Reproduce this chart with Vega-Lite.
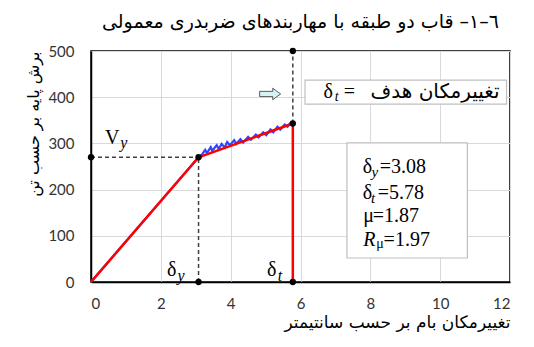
{
  "$schema": "https://vega.github.io/schema/vega-lite/v6.json",
  "width": 419,
  "height": 231,
  "autosize": "none",
  "padding": {"left": 91, "top": 51, "right": 24, "bottom": 65},
  "title": {
    "text": "٦–١– قاب دو طبقه با مهاربندهای ضربدری معمولی",
    "font": "DejaVu Sans",
    "fontSize": 19,
    "fontWeight": "normal",
    "color": "#000000",
    "anchor": "middle",
    "frame": "group",
    "offset": 12
  },
  "config": {
    "view": {"stroke": "#000000", "strokeWidth": 1.5},
    "axis": {
      "gridColor": "#d9d9d9",
      "gridWidth": 1,
      "ticks": false,
      "domainColor": "#000000",
      "domainWidth": 1.5,
      "labelFont": "Lato",
      "labelFontSize": 15,
      "labelColor": "#333333",
      "titleFont": "DejaVu Sans",
      "titleFontSize": 17,
      "titleFontWeight": "normal",
      "titleColor": "#000000"
    }
  },
  "datasets": {
    "boxes": [
      {"x": 6.13, "x2": 11.9, "y": 437, "y2": 385},
      {"x": 7.33, "x2": 10.78, "y": 301, "y2": 52}
    ],
    "pushover": [
      {"x": 0, "y": 0},
      {"x": 3.08, "y": 270},
      {"x": 3.18, "y": 276},
      {"x": 3.27, "y": 286},
      {"x": 3.32, "y": 279},
      {"x": 3.43, "y": 292},
      {"x": 3.47, "y": 284},
      {"x": 3.6, "y": 296},
      {"x": 3.66, "y": 288},
      {"x": 3.74, "y": 299},
      {"x": 3.83, "y": 291},
      {"x": 3.9, "y": 303},
      {"x": 3.98, "y": 296},
      {"x": 4.1, "y": 307},
      {"x": 4.16, "y": 299},
      {"x": 4.28, "y": 309},
      {"x": 4.36, "y": 302},
      {"x": 4.5, "y": 314},
      {"x": 4.58, "y": 308},
      {"x": 4.72, "y": 319},
      {"x": 4.8, "y": 313},
      {"x": 4.93, "y": 324},
      {"x": 5.02, "y": 318},
      {"x": 5.14, "y": 330},
      {"x": 5.22, "y": 324},
      {"x": 5.34, "y": 336},
      {"x": 5.42, "y": 330},
      {"x": 5.55, "y": 341},
      {"x": 5.63, "y": 336},
      {"x": 5.72, "y": 345},
      {"x": 5.78, "y": 343}
    ],
    "bilinear": [
      {"x": 0, "y": 0},
      {"x": 3.08, "y": 270},
      {"x": 5.78, "y": 343}
    ],
    "dashed": [
      {"x": 0, "x2": 3.08, "y": 270, "y2": 270},
      {"x": 3.08, "x2": 3.08, "y": 0, "y2": 270},
      {"x": 5.78, "x2": 5.78, "y": 343, "y2": 500}
    ],
    "redrule": [
      {"x": 5.78, "x2": 5.78, "y": 0, "y2": 343}
    ],
    "dots": [
      {"x": 0, "y": 270},
      {"x": 3.08, "y": 270},
      {"x": 3.08, "y": 0},
      {"x": 5.78, "y": 0},
      {"x": 5.78, "y": 343},
      {"x": 5.78, "y": 500}
    ],
    "arrow": [
      {"x": 5.13, "y": 407}
    ],
    "mainText": [
      {"x": 0.4, "y": 311, "t": "V"},
      {"x": 2.18, "y": 27, "t": "δ"},
      {"x": 5.04, "y": 27, "t": "δ"},
      {"x": 6.66, "y": 411, "t": "δ"},
      {"x": 7.24, "y": 411, "t": "="},
      {"x": 7.78, "y": 249, "t": "δ"},
      {"x": 8.27, "y": 249, "t": "=3.08"},
      {"x": 7.78, "y": 193, "t": "δ"},
      {"x": 8.21, "y": 193, "t": "=5.78"},
      {"x": 7.8, "y": 143, "t": "μ"},
      {"x": 8.07, "y": 143, "t": "=1.87"},
      {"x": 8.38, "y": 91, "t": "=1.97"}
    ],
    "italicText": [
      {"x": 0.84, "y": 300, "t": "y", "s": 16},
      {"x": 2.48, "y": 14, "t": "y", "s": 16},
      {"x": 5.35, "y": 14, "t": "t", "s": 16},
      {"x": 6.98, "y": 400, "t": "t", "s": 14},
      {"x": 8.03, "y": 238, "t": "y", "s": 15},
      {"x": 8.02, "y": 182, "t": "t", "s": 15},
      {"x": 7.8, "y": 91, "t": "R", "s": 20}
    ],
    "subMu": [
      {"x": 8.17, "y": 82, "t": "μ"}
    ],
    "persianText": [
      {"x": 11.7, "y": 411, "t": "تغییرمکان هدف"}
    ]
  },
  "layer": [
    {
      "data": {"name": "boxes"},
      "mark": {"type": "rect", "fill": "#ffffff", "stroke": "#bfbfbf", "strokeWidth": 1.2},
      "encoding": {
        "x": {
          "field": "x", "type": "quantitative",
          "scale": {"domain": [0, 12], "nice": false, "zero": false},
          "axis": {
            "values": [0, 1, 2, 3, 4, 5, 6, 7, 8, 9, 10, 11, 12],
            "labelExpr": "datum.value % 2 == 0 ? datum.label : ''",
            "labelPadding": 14,
            "title": "تغییرمکان بام بر حسب سانتیمتر",
            "titleAnchor": "end",
            "titlePadding": 3
          }
        },
        "x2": {"field": "x2"},
        "y": {
          "field": "y", "type": "quantitative",
          "scale": {"domain": [0, 500], "nice": false},
          "axis": {
            "values": [0, 50, 100, 150, 200, 250, 300, 350, 400, 450, 500],
            "labelExpr": "datum.value % 100 == 0 ? datum.label : ''",
            "labelPadding": 17,
            "title": "برش پایه بر حسب تن",
            "titleAnchor": "end",
            "titleFontSize": 16,
            "titlePadding": 6
          }
        },
        "y2": {"field": "y2"}
      }
    },
    {
      "data": {"name": "pushover"},
      "mark": {"type": "line", "color": "#3045ff", "strokeWidth": 2.2},
      "encoding": {
        "x": {"field": "x", "type": "quantitative"},
        "y": {"field": "y", "type": "quantitative"}
      }
    },
    {
      "data": {"name": "dashed"},
      "mark": {"type": "rule", "color": "#404040", "strokeWidth": 1.5, "strokeDash": [4, 3]},
      "encoding": {
        "x": {"field": "x", "type": "quantitative"},
        "x2": {"field": "x2"},
        "y": {"field": "y", "type": "quantitative"},
        "y2": {"field": "y2"}
      }
    },
    {
      "data": {"name": "bilinear"},
      "mark": {"type": "line", "color": "#ff0000", "strokeWidth": 2.5},
      "encoding": {
        "x": {"field": "x", "type": "quantitative"},
        "y": {"field": "y", "type": "quantitative"}
      }
    },
    {
      "data": {"name": "redrule"},
      "mark": {"type": "rule", "color": "#ff0000", "strokeWidth": 2.5},
      "encoding": {
        "x": {"field": "x", "type": "quantitative"},
        "x2": {"field": "x2"},
        "y": {"field": "y", "type": "quantitative"},
        "y2": {"field": "y2"}
      }
    },
    {
      "data": {"name": "dots"},
      "mark": {"type": "circle", "color": "#000000", "size": 40, "opacity": 1},
      "encoding": {
        "x": {"field": "x", "type": "quantitative"},
        "y": {"field": "y", "type": "quantitative"}
      }
    },
    {
      "data": {"name": "arrow"},
      "mark": {
        "type": "point",
        "shape": "M-1,-0.25 L0.25,-0.25 L0.25,-0.55 L1,0 L0.25,0.55 L0.25,0.25 L-1,0.25 Z",
        "size": 440,
        "filled": true,
        "fill": "#d5f2f4",
        "stroke": "#333333",
        "strokeWidth": 0.8,
        "opacity": 1
      },
      "encoding": {
        "x": {"field": "x", "type": "quantitative"},
        "y": {"field": "y", "type": "quantitative"}
      }
    },
    {
      "data": {"name": "mainText"},
      "mark": {"type": "text", "font": "Liberation Serif", "fontSize": 20, "align": "left", "baseline": "middle", "color": "#000000"},
      "encoding": {
        "x": {"field": "x", "type": "quantitative"},
        "y": {"field": "y", "type": "quantitative"},
        "text": {"field": "t"}
      }
    },
    {
      "data": {"name": "italicText"},
      "mark": {"type": "text", "font": "Liberation Serif", "fontStyle": "italic", "align": "left", "baseline": "middle", "color": "#000000"},
      "encoding": {
        "x": {"field": "x", "type": "quantitative"},
        "y": {"field": "y", "type": "quantitative"},
        "text": {"field": "t"},
        "size": {"field": "s", "type": "quantitative", "scale": null}
      }
    },
    {
      "data": {"name": "subMu"},
      "mark": {"type": "text", "font": "Liberation Serif", "fontSize": 14, "align": "left", "baseline": "middle", "color": "#000000"},
      "encoding": {
        "x": {"field": "x", "type": "quantitative"},
        "y": {"field": "y", "type": "quantitative"},
        "text": {"field": "t"}
      }
    },
    {
      "data": {"name": "persianText"},
      "mark": {"type": "text", "font": "DejaVu Sans", "fontSize": 20, "align": "right", "baseline": "middle", "color": "#000000"},
      "encoding": {
        "x": {"field": "x", "type": "quantitative"},
        "y": {"field": "y", "type": "quantitative"},
        "text": {"field": "t"}
      }
    }
  ]
}
